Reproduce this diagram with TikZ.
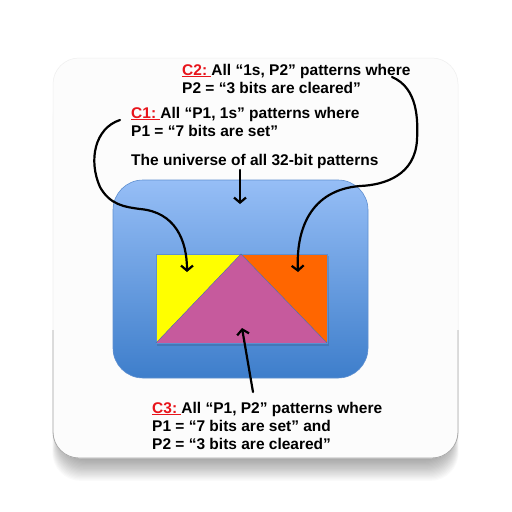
\documentclass[tikz,border=0pt]{standalone}
\usepackage{fontspec}
\setmainfont{Liberation Sans}
\usetikzlibrary{arrows.meta}

\definecolor{cardfill}{HTML}{FCFCFC}
\definecolor{cardedgeTop}{HTML}{EEEEEE}
\definecolor{cardedgeLow}{HTML}{A9A9A9}
\definecolor{blueTop}{HTML}{96BEF6}
\definecolor{blueBot}{HTML}{3E7ECB}
\definecolor{blueEdge}{HTML}{5E8FD0}
\definecolor{setYellow}{HTML}{FFFF00}
\definecolor{setOrange}{HTML}{FF6600}
\definecolor{setMagenta}{HTML}{C65A9D}
\definecolor{tagRed}{HTML}{E8141B}

\newcommand{\tagc}[1]{\textcolor{tagRed}{\underline{#1:\ }}}

\begin{document}
\begin{tikzpicture}[x=1pt,y=-1pt,
  caption/.style={anchor=base west, inner sep=0pt,
    font=\fontsize{15.5}{18}\selectfont\bfseries},
  pointer/.style={line width=2.2pt, line cap=round,
    -{Straight Barb[length=5pt,width=12pt,line width=2.2pt]}}]

\useasboundingbox (0,0) rectangle (512,512);
\fill[white] (0,0) rectangle (512,512);

% soft shadow under the card
\foreach \i in {0,...,19}{
  \fill[black, opacity=0.018, rounded corners=28pt]
    (60-\i*0.4, 80+\i*0.5) rectangle (451+\i*0.4, 458+\i*1.2);
}

% card
\fill[cardfill, rounded corners=26pt] (53,58) rectangle (458,458);
\draw[cardedgeTop, line width=0.5pt, rounded corners=26pt]
  (53,58) rectangle (458,458);
\draw[cardedgeLow, line width=0.8pt, rounded corners=26pt]
  (53,330) -- (53,458) -- (458,458) -- (458,330);

% universe box
\draw[blueEdge, line width=0.6pt, top color=blueTop, bottom color=blueBot,
  rounded corners=30pt] (113,180) rectangle (368,378);

% pattern sets
\fill[black, opacity=0.12] (157,256) rectangle (329,346);
\fill[setYellow] (156,254) -- (241,254) -- (156,343) -- cycle;
\fill[setOrange] (241,254) -- (327,254) -- (327,343) -- cycle;
\fill[setMagenta] (241,254) -- (327,343) -- (156,343) -- cycle;
\draw[blueEdge, line width=0.5pt] (156,254) rectangle (327,343);
\draw[blueEdge!80!black, line width=0.4pt] (156,343) -- (241,254) -- (327,343);

% targets inside the sets
\coordinate (yellowIn) at (187,272);
\coordinate (orangeIn) at (298,272);
\coordinate (magentaIn) at (242,328);
\coordinate (universeIn) at (240,204);

% captions
\node[caption] (c2) at (182,75) {\begin{tabular}[t]{@{}l@{}}
  \tagc{C2}All “1s, P2” patterns where\\
  P2 = “3 bits are cleared”\end{tabular}};
\node[caption] (c1) at (131,118) {\begin{tabular}[t]{@{}l@{}}
  \tagc{C1}All “P1, 1s” patterns where\\
  P1 = “7 bits are set”\end{tabular}};
\node[caption] (uni) at (131,165) {The universe of all 32-bit patterns};
\node[caption] (c3) at (152,413) {\begin{tabular}[t]{@{}l@{}}
  \tagc{C3}All “P1, P2” patterns where\\
  P1 = “7 bits are set” and\\
  P2 = “3 bits are cleared”\end{tabular}};

\coordinate (c1start) at (120,120);
\coordinate (c2start) at (392,77);
\coordinate (unistart) at (240,170);
\coordinate (c3start) at (253,392);

% pointers
\draw[pointer] (unistart) -- (universeIn);
\draw[pointer] (c1start) .. controls (95,128) and (88,160) .. (100,187)
  .. controls (110,205) and (125,207) .. (140,209)
  .. controls (175,212) and (187,240) .. (yellowIn);
\draw[pointer] (c2start) .. controls (418,88) and (418,120) .. (417,140)
  .. controls (415,175) and (385,185) .. (360,186)
  .. controls (310,190) and (296,230) .. (orangeIn);
\draw[pointer] (c3start) -- (magentaIn);
\end{tikzpicture}
\end{document}
